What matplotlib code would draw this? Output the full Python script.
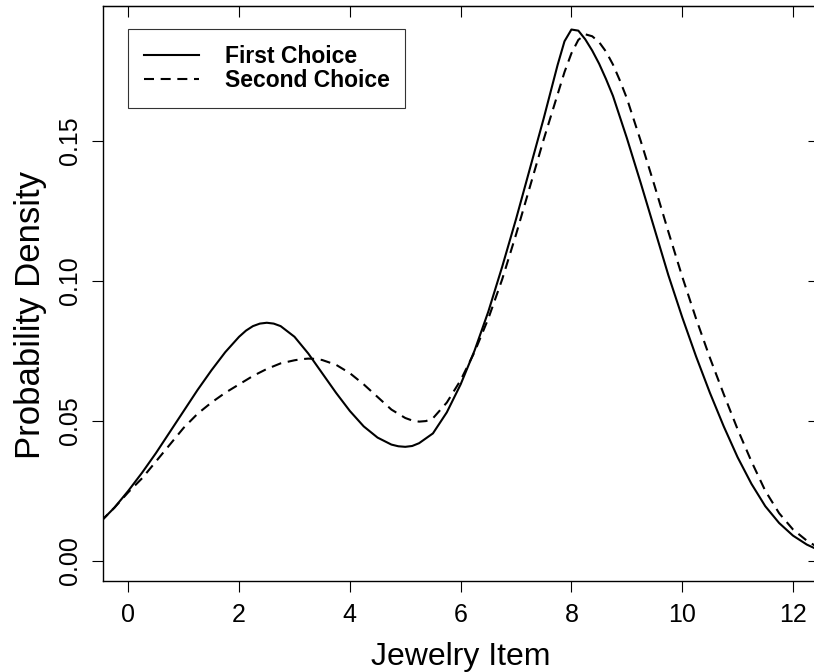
import matplotlib
matplotlib.use("Agg")
import matplotlib.pyplot as plt

# Density estimates of the chosen jewelry item
x_first = [-0.50, -0.25, 0.00, 0.25, 0.50, 0.75, 1.00, 1.25, 1.50, 1.75,
           2.00, 2.125, 2.25, 2.375, 2.50, 2.625, 2.75, 3.00, 3.25, 3.50,
           3.75, 4.00, 4.25, 4.50, 4.75, 4.875, 5.00, 5.125, 5.25, 5.50,
           5.75, 6.00, 6.25, 6.50, 6.75, 7.00, 7.25, 7.50, 7.625, 7.75,
           7.875, 8.00, 8.125, 8.25, 8.375, 8.50, 8.625, 8.75, 9.00, 9.25,
           9.50, 9.75, 10.00, 10.25, 10.50, 10.75, 11.00, 11.25, 11.50,
           11.75, 12.00, 12.25, 12.50]
y_first = [0.0140, 0.0190, 0.0250, 0.0315, 0.0385, 0.0460, 0.0535, 0.0610,
           0.0680, 0.0745, 0.0800, 0.0822, 0.0838, 0.0847, 0.0850, 0.0847,
           0.0838, 0.0800, 0.0740, 0.0670, 0.0600, 0.0535, 0.0480, 0.0440,
           0.0415, 0.0409, 0.0407, 0.0410, 0.0420, 0.0455, 0.0530, 0.0630,
           0.0750, 0.0890, 0.1050, 0.1220, 0.1400, 0.1580, 0.1675, 0.1770,
           0.1855, 0.1897, 0.1893, 0.1862, 0.1822, 0.1775, 0.1720, 0.1660,
           0.1510, 0.1350, 0.1185, 0.1020, 0.0870, 0.0730, 0.0600, 0.0480,
           0.0370, 0.0275, 0.0195, 0.0135, 0.0090, 0.0058, 0.0035]

x_second = [-0.50, -0.25, 0.00, 0.25, 0.50, 0.75, 1.00, 1.25, 1.50, 1.75,
            2.00, 2.25, 2.50, 2.75, 3.00, 3.125, 3.25, 3.375, 3.50, 3.75,
            4.00, 4.25, 4.50, 4.75, 5.00, 5.125, 5.25, 5.375, 5.50, 5.75,
            6.00, 6.25, 6.50, 6.75, 7.00, 7.25, 7.50, 7.75, 7.875, 8.00,
            8.125, 8.25, 8.375, 8.50, 8.625, 8.75, 8.875, 9.00, 9.25, 9.50,
            9.75, 10.00, 10.25, 10.50, 10.75, 11.00, 11.25, 11.50, 11.75,
            12.00, 12.25, 12.50]
y_second = [0.0140, 0.0190, 0.0245, 0.0295, 0.0355, 0.0415, 0.0475, 0.0525,
            0.0565, 0.0600, 0.0630, 0.0660, 0.0685, 0.0705, 0.0716, 0.0720,
            0.0722, 0.0721, 0.0717, 0.0700, 0.0670, 0.0630, 0.0585, 0.0540,
            0.0510, 0.0501, 0.0497, 0.0499, 0.0509, 0.0565, 0.0645, 0.0745,
            0.0865, 0.1005, 0.1165, 0.1335, 0.1505, 0.1665, 0.1745, 0.1812,
            0.1860, 0.1880, 0.1873, 0.1852, 0.1818, 0.1772, 0.1715, 0.1652,
            0.1500, 0.1340, 0.1175, 0.1015, 0.0865, 0.0725, 0.0595, 0.0470,
            0.0355, 0.0250, 0.0170, 0.0112, 0.0072, 0.0042]

series_labels = ["First Choice", "Second Choice"]
x_ticks = [0, 2, 4, 6, 8, 10, 12]
y_ticks = [0.00, 0.05, 0.10, 0.15]
y_tick_labels = ["0.00", "0.05", "0.10", "0.15"]

plt.rcParams["font.family"] = ["Liberation Sans", "DejaVu Sans"]

W, H = 814, 672
fig = plt.figure(figsize=(W / 100, H / 100), dpi=100)
left_px, right_px, top_px, bottom_px = 102.5, 819.0, 6.0, 580.7
ax = fig.add_axes([left_px / W, 1 - bottom_px / H,
                   (right_px - left_px) / W, (bottom_px - top_px) / H])

ax.plot(x_first, y_first, color="black", lw=1.5, ls="-",
        label=series_labels[0], solid_joinstyle="round")
ax.plot(x_second, y_second, color="black", lw=1.5, ls=(0, (4.8, 3.2)),
        label=series_labels[1])

ax.set_xlim(-0.466, 12.47)
ax.set_ylim(-0.0071, 0.1981)

for s in ax.spines.values():
    s.set_linewidth(1.0)

ax.set_xticks(x_ticks)
ax.set_yticks(y_ticks)
ax.set_yticklabels(y_tick_labels, rotation=90, va="center")
ax.tick_params(direction="out", length=8, width=0.8, labelsize=18, pad=8)
ax.tick_params(axis="y", pad=7)

# inward ticks on the top and right sides
top = ax.secondary_xaxis("top")
top.set_xticks(x_ticks)
top.tick_params(direction="in", length=8, width=0.8, labeltop=False)
right = ax.secondary_yaxis("right")
right.set_yticks(y_ticks)
right.tick_params(direction="in", length=8, width=0.8, labelright=False)

ax.set_xlabel("Jewelry Item", fontsize=23, labelpad=11)
ax.set_ylabel("Probability Density", fontsize=25)
ax.yaxis.set_label_coords(-0.0775, 0.462)

# legend box anchored at its top-left corner in data coordinates
leg = ax.legend(loc="upper left", bbox_to_anchor=(0.0, 0.19),
                bbox_transform=ax.transData, borderaxespad=0.0,
                prop={"weight": "bold", "size": 16.5}, frameon=True,
                fancybox=False, edgecolor="black", handlelength=2.4,
                handletextpad=1.1, borderpad=0.7, labelspacing=0.05)
leg.get_frame().set_linewidth(0.8)

fig.savefig("out.png", dpi=100)
